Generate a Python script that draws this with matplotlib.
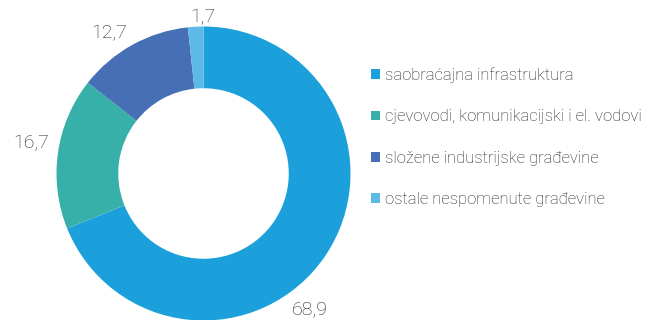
import matplotlib
matplotlib.use("Agg")
import matplotlib.pyplot as plt
from matplotlib.patches import Patch
import numpy as np

categories = [
    "saobraćajna infrastruktura",
    "cjevovodi, komunikacijski i el. vodovi",
    "složene industrijske građevine",
    "ostale nespomenute građevine",
]
shares = [68.9, 16.7, 12.7, 1.7]
colors = ["#1ca0db", "#37b0a9", "#466fb5", "#5db9e6"]
# label placement: angular nudge (degrees) from wedge middle, radial distance
label_nudge = [-17.8, -1.9, 5.0, -2.7]
label_dist = [1.172, 1.19, 1.149, 1.061]

plt.rcParams["font.family"] = ["Roboto", "DejaVu Sans"]
TEXT = "#222222"

W, H = 651, 320
fig = plt.figure(figsize=(W / 100, H / 100), dpi=100)

cx, cy, r = 203.5, 320 - 173.5, 147
ax = fig.add_axes([(cx - r) / W, (cy - r) / H, 2 * r / W, 2 * r / H])

wedges, _ = ax.pie(
    shares,
    colors=colors,
    startangle=90,
    counterclock=False,
    radius=1.0,
    wedgeprops=dict(width=0.42, linewidth=0),
)
ax.set_xlim(-1, 1)
ax.set_ylim(-1, 1)
ax.set_aspect("equal")
ax.axis("off")

for w, val, nudge, dist in zip(wedges, shares, label_nudge, label_dist):
    ang = np.deg2rad((w.theta1 + w.theta2) / 2 + nudge)
    ax.text(dist * np.cos(ang), dist * np.sin(ang), f"{val:.1f}".replace(".", ","),
            ha="center", va="center", fontsize=14, fontweight="light",
            color=TEXT, clip_on=False)

handles = [Patch(facecolor=c, edgecolor="none") for c in colors]
fig.legend(handles, categories, loc="upper left", bbox_to_anchor=(371 / W, 1 - 67.5 / H),
           frameon=False, handlelength=0.54, handleheight=0.54, handletextpad=0.3,
           labelspacing=1.57, prop=dict(family=["Roboto", "DejaVu Sans"], weight="light", size=12),
           labelcolor=TEXT, borderaxespad=0, borderpad=0)

fig.savefig("out.png", dpi=100)
